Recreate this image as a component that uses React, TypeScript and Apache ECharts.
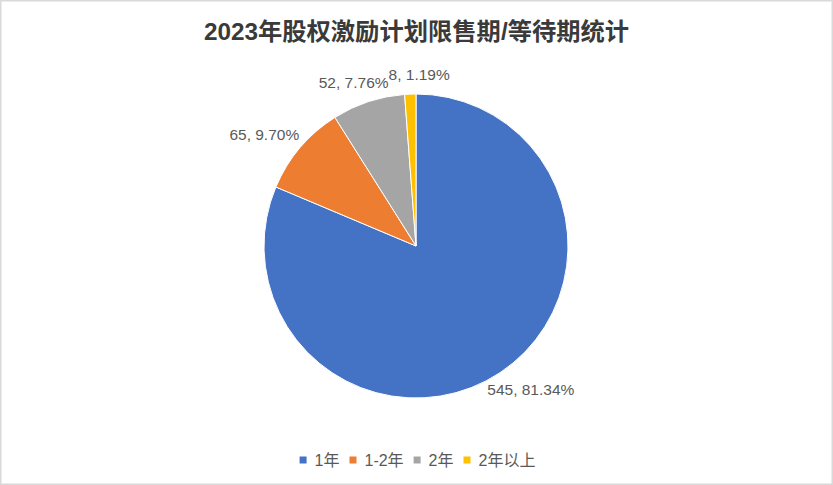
import React, { useEffect, useRef } from "react";
import * as echarts from "echarts";

const categories = ["1年", "1-2年", "2年", "2年以上"];
const counts = [545, 65, 52, 8];
const percentLabels = ["81.34%", "9.70%", "7.76%", "1.19%"];
const colors = ["#4472C4", "#ED7D31", "#A5A5A5", "#FFC000"];
const titleText = "2023年股权激励计划限售期/等待期统计";

const CX = 416;
const CY = 246;
const R = 152;
const GAP = 12;
const FONT = "'Liberation Sans', Arial, 'Noto Sans CJK SC', sans-serif";

export default function App() {
  const ref = useRef<HTMLDivElement>(null);
  useEffect(() => {
    if (!ref.current) return;
    const chart = echarts.init(ref.current, null, { renderer: "svg" });
    const total = counts.reduce((a, b) => a + b, 0);
    const option: any = {
      animation: false,
      backgroundColor: "#ffffff",
      textStyle: { fontFamily: FONT },
      title: {
        text: titleText,
        left: "center",
        top: 14,
        textStyle: {
          fontFamily: "'Liberation Sans', 'Noto Sans CJK SC', sans-serif",
          fontSize: 24.3,
          fontWeight: "bold",
          color: "#3a3a3a",
        },
      },
      legend: {
        data: categories,
        top: 447,
        left: "center",
        icon: "rect",
        itemWidth: 9,
        itemHeight: 9,
        itemGap: 8,
        textStyle: {
          fontFamily: FONT,
          fontSize: 16,
          color: "#595959",
          padding: [0, 0, 0, 2],
        },
      },
      graphic: [
        {
          type: "rect",
          shape: { x: 0.75, y: 0.75, width: 831.5, height: 483.5 },
          style: { fill: "none", stroke: "#d9d9d9", lineWidth: 1.5 },
          silent: true,
        },
      ],
      series: [
        {
          type: "pie",
          center: [CX, CY],
          radius: R,
          startAngle: 90,
          clockwise: true,
          color: colors,
          itemStyle: { borderColor: "#ffffff", borderWidth: 1 },
          label: {
            show: true,
            position: "outside",
            fontFamily: FONT,
            fontSize: 15.5,
            color: "#595959",
            formatter: (p: any) => `${p.value}, ${percentLabels[p.dataIndex]}`,
          },
          labelLine: { show: false },
          labelLayout: (params: any) => {
            const i = params.dataIndex;
            let before = 0;
            for (let k = 0; k < i; k++) before += counts[k];
            const mid = ((before + counts[i] / 2) / total) * Math.PI * 2;
            const dx = Math.sin(mid);
            const dy = -Math.cos(mid);
            const w = params.labelRect.width;
            const h = params.labelRect.height;
            const d = R + GAP;
            return {
              x: CX + dx * d + (dx * w) / 2,
              y: CY + dy * d + (dy * h) / 2,
              align: "center",
              verticalAlign: "middle",
              moveOverlap: "shiftX",
            };
          },
          data: categories.map((c, i) => ({ name: c, value: counts[i] })),
        },
      ],
    };
    chart.setOption(option);
    return () => chart.dispose();
  }, []);
  return (
    <div
      ref={ref}
      style={{ position: "absolute", left: 0, top: 0, width: 833, height: 485 }}
    />
  );
}
